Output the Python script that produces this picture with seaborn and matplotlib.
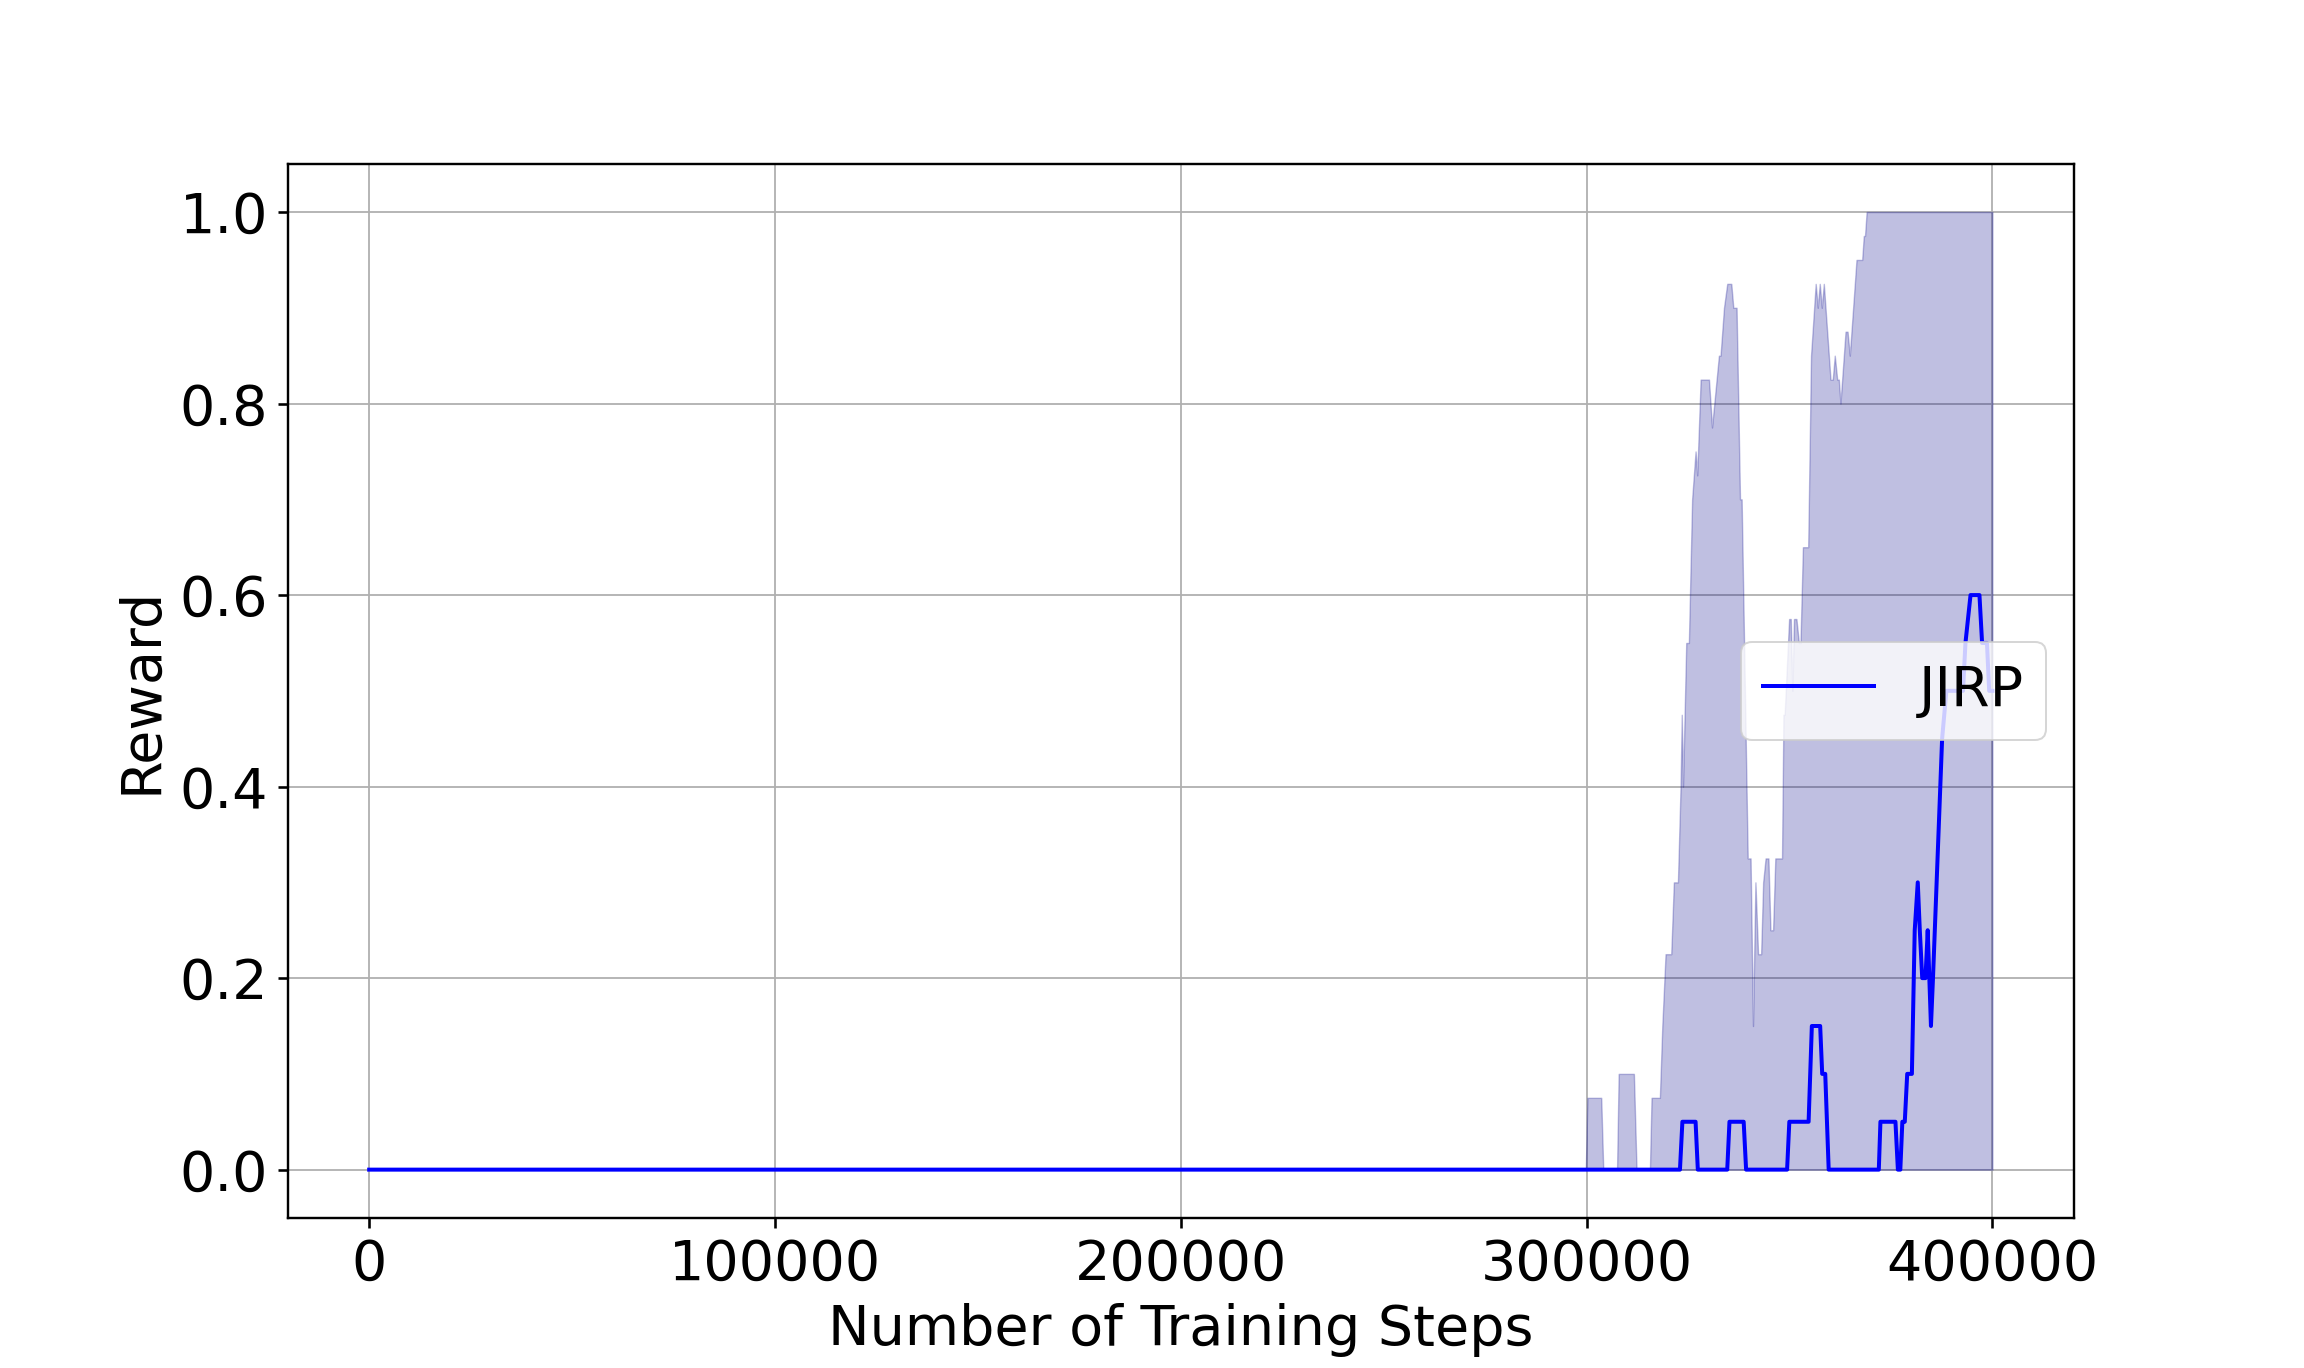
import numpy as np
import matplotlib
matplotlib.use("Agg")
import matplotlib.pyplot as plt
import seaborn as sns
import pandas as pd

# ---- data ----
mean_steps = [0, 323000, 323600, 326850, 327400, 334650, 335200, 338700, 339300,
              349400, 349950, 354700, 355500, 357550, 358050, 358800, 359650,
              372000, 372400, 376100, 376700, 377300, 377800, 378400, 379000,
              380150, 380850, 381600, 382100, 382700, 383500, 384050, 384850,
              385350, 387600, 388650, 392750, 393350, 394600, 396800, 397450,
              398650, 399200, 400000]
mean_vals = [0, 0, 0.05, 0.05, 0, 0, 0.05, 0.05, 0,
             0, 0.05, 0.05, 0.15, 0.15, 0.10, 0.10, 0,
             0, 0.05, 0.05, 0, 0, 0.05, 0.05, 0.10,
             0.10, 0.25, 0.30, 0.25, 0.20, 0.20, 0.25, 0.15,
             0.20, 0.45, 0.50, 0.50, 0.55, 0.60, 0.60, 0.55,
             0.55, 0.50, 0.50]

upper_steps = [0, 299800, 300200, 303600, 304100, 307500, 307900, 311650, 312300,
               315600, 316000, 318050, 318650, 319450, 320850, 321500, 322500,
               323150, 323450, 323750, 324550, 325200, 326000, 326850, 327250,
               328100, 330150, 330900, 332600, 333000, 333850, 334650, 335650,
               336150, 336950, 337800, 338200, 339700, 340400, 341000, 341600,
               342250, 343000, 343500, 344100, 344800, 345300, 345950, 346500,
               348150, 348500, 348800, 349900, 350300, 350700, 351100, 351700,
               352300, 352700, 353300, 354600, 355300, 356450, 356950, 357450,
               357950, 358450, 360100, 360650, 361150, 361750, 362150, 362550,
               363800, 364300, 364850, 366500, 367900, 368300, 368600, 369000,
               400000]
upper_vals = [0, 0, 0.075, 0.075, 0, 0, 0.10, 0.10, 0,
              0, 0.075, 0.075, 0.15, 0.225, 0.225, 0.30, 0.30,
              0.40, 0.475, 0.40, 0.55, 0.55, 0.70, 0.75, 0.725,
              0.825, 0.825, 0.775, 0.85, 0.85, 0.90, 0.925, 0.925,
              0.90, 0.90, 0.70, 0.70, 0.325, 0.325, 0.15, 0.30,
              0.225, 0.225, 0.30, 0.325, 0.325, 0.25, 0.25, 0.325,
              0.325, 0.475, 0.475, 0.575, 0.575, 0.50, 0.575, 0.575,
              0.55, 0.55, 0.65, 0.65, 0.85, 0.925, 0.90, 0.925,
              0.90, 0.925, 0.825, 0.825, 0.85, 0.825, 0.825, 0.80,
              0.875, 0.875, 0.85, 0.95, 0.95, 0.975, 0.975, 1.0,
              1.0]
lower_val = 0.0

series_label = "JIRP"
x_label = "Number of Training Steps"
y_label = "Reward"

# ---- plotting ----
plt.rcParams["font.family"] = ["DejaVu Sans"]
plt.rcParams["font.size"] = 27.8

fig, ax = plt.subplots(figsize=(16, 9.5), dpi=144)

ax.fill_between(upper_steps, lower_val, upper_vals, color="darkblue",
                alpha=0.25, linewidth=0.7, zorder=2)

df = pd.DataFrame({"steps": mean_steps, "reward": mean_vals})
sns.lineplot(data=df, x="steps", y="reward", estimator=None, sort=False,
             color="blue", linewidth=2.0, label=series_label, ax=ax, zorder=3)

ax.grid(True, color="#b0b0b0", linewidth=0.9)
ax.set_axisbelow(True)
ax.set_xlabel(x_label, labelpad=5.5)
ax.set_ylabel(y_label, labelpad=5.5)
ax.set_xticks([0, 100000, 200000, 300000, 400000])
ax.set_xticklabels(["0", "100000", "200000", "300000", "400000"])
ax.set_yticks([0.0, 0.2, 0.4, 0.6, 0.8, 1.0])
ax.set_yticklabels(["0.0", "0.2", "0.4", "0.6", "0.8", "1.0"])
ax.tick_params(axis="both", length=5.2, pad=4.8, width=1.3)
for sp in ax.spines.values():
    sp.set_linewidth(1.2)
ax.set_xlim(-20000, 420000)
ax.set_ylim(-0.05, 1.05)
ax.legend(loc="center right")

fig.subplots_adjust(left=0.125, right=0.9, top=0.88, bottom=0.11)
fig.savefig("out.png", dpi=144)
